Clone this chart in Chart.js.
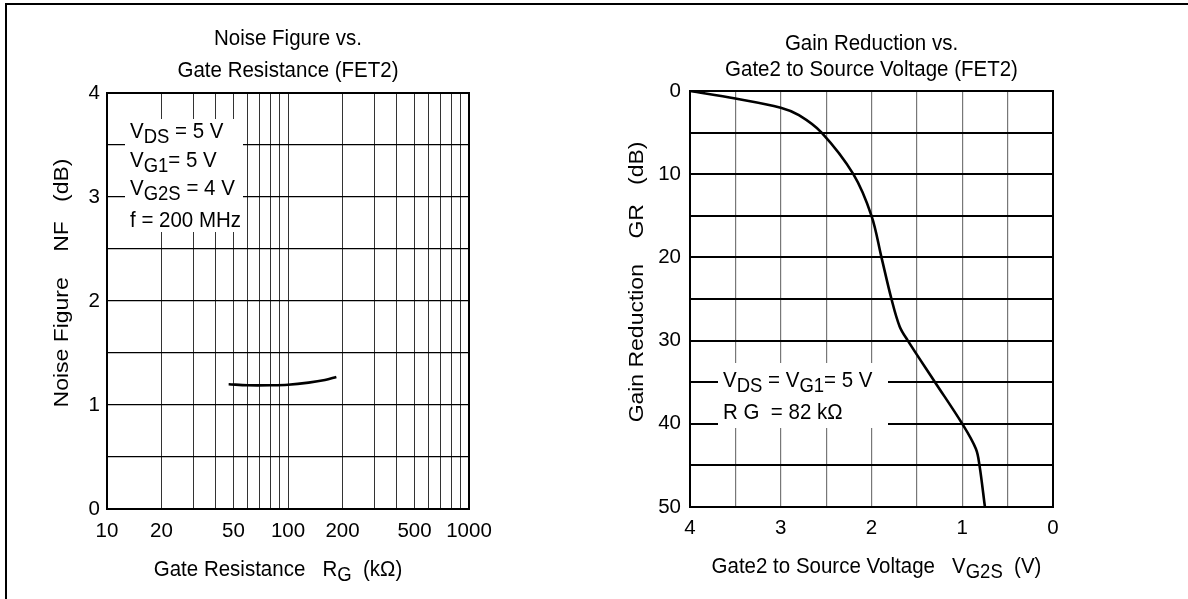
<!DOCTYPE html>
<html>
<head>
<meta charset="utf-8">
<script src="https://cdn.jsdelivr.net/npm/chart.js@4.4.1/dist/chart.umd.min.js"></script>
<style>
  html, body { margin: 0; padding: 0; background: #fff; }
  #page { position: relative; width: 1188px; height: 599px; overflow: hidden; background: #fff; }
  #frame { position: absolute; left: 5px; top: 3px; width: 1200px; height: 620px;
           border-top: 2px solid #000; border-left: 2px solid #000; }
  canvas { position: absolute; top: 0; }
</style>
</head>
<body>
<div id="page">
  <div id="frame"></div>
  <canvas id="nfChart" width="594" height="599" style="left:0"></canvas>
  <canvas id="grChart" width="594" height="599" style="left:594px"></canvas>
</div>
<script>
// ---- left chart: noise figure vs gate resistance ----
const nfTitle = ['Noise Figure vs.', 'Gate Resistance (FET2)'];
const nfResistance = [47, 60, 80, 100, 130, 160, 185];
const nfValues = [1.20, 1.19, 1.19, 1.195, 1.215, 1.24, 1.27];
const nfTickLabels = [10, 20, 50, 100, 200, 500, 1000];
const nfYLabels = [0, 1, 2, 3, 4];
const nfConditions = [
    [['V', 0], ['DS', 1], [' = 5 V', 0]],
    [['V', 0], ['G1', 1], ['= 5 V', 0]],
    [['V', 0], ['G2S', 1], [' = 4 V', 0]],
    [['f = 200 MHz', 0]]
];
const nfXTitle = [['Gate Resistance   R', 0], ['G', 1], ['  (k\u03A9)', 0]];
const nfYTitle = 'Noise Figure    NF   (dB)';

// ---- right chart: gain reduction vs gate2 voltage ----
const grTitle = ['Gain Reduction vs.', 'Gate2 to Source Voltage (FET2)'];
const grVoltage = [4, 3.5, 3, 2.8, 2.55, 2.2, 2.0, 1.89, 1.78, 1.69, 1.6, 1.3, 1.0, 0.85, 0.81, 0.75];
const grValues  = [0, 0.9, 2, 2.9, 5, 10, 15, 20, 25, 28.3, 30, 35, 40, 43, 45, 50];
const grXLabels = [0, 1, 2, 3, 4];
const grYLabels = [0, 10, 20, 30, 40, 50];
const grConditions = [
    [['V', 0], ['DS', 1], [' = V', 0], ['G1', 1], ['= 5 V', 0]],
    [['R G  = 82 k\u03A9', 0]]
];
const grXTitle = [['Gate2 to Source Voltage   V', 0], ['G2S', 1], ['  (V)', 0]];
const grYTitle = 'Gain Reduction    GR   (dB)';

const FONT = "'Liberation Sans', Arial, sans-serif";
const TEXT_SIZE = 20.5;
const SUB_SIZE = 18.5;
const STRETCH = 1.12;   // the scan is a bit taller than wide

function richWidth(ctx, parts) {
    let w = 0;
    parts.forEach(([t, sub]) => {
        ctx.font = `${sub ? SUB_SIZE : TEXT_SIZE}px ${FONT}`;
        w += ctx.measureText(t).width;
    });
    return w;
}

function drawRich(ctx, parts, x, y) {
    let cx = x;
    parts.forEach(([t, sub]) => {
        ctx.font = `${sub ? SUB_SIZE : TEXT_SIZE}px ${FONT}`;
        ctx.save();
        ctx.translate(cx, y + (sub ? 5 : 0));
        ctx.scale(1, STRETCH);
        ctx.fillText(t, 0, 0);
        ctx.restore();
        cx += ctx.measureText(t).width;
    });
}

// titles, axis titles, condition box and frame of the plot
function makeDeco(cfg) {
    return {
        id: 'deco',
        beforeDatasetsDraw(chart) {
            const { ctx, chartArea: a } = chart;
            const n = cfg.note;
            ctx.save();
            ctx.fillStyle = '#fff';
            ctx.fillRect(a.left + n.box[0], a.top + n.box[1], n.box[2], n.box[3]);
            ctx.fillStyle = '#000';
            ctx.textAlign = 'left';
            ctx.textBaseline = 'alphabetic';
            n.lines.forEach((line, i) => drawRich(ctx, line, a.left + n.x, a.top + n.y[i]));
            ctx.restore();
        },
        afterDatasetsDraw(chart) {
            const { ctx, chartArea: a } = chart;
            const mid = (a.left + a.right) / 2;
            ctx.save();
            ctx.strokeStyle = '#000';
            ctx.lineWidth = 2;
            ctx.strokeRect(a.left, a.top, a.right - a.left, a.bottom - a.top);

            ctx.fillStyle = '#000';
            ctx.textBaseline = 'alphabetic';
            ctx.textAlign = 'left';
            cfg.title.forEach((t, i) => {
                const w = richWidth(ctx, [[t, 0]]);
                drawRich(ctx, [[t, 0]], mid - w / 2, a.top + cfg.titleY[i]);
            });

            const w = richWidth(ctx, cfg.xTitle);
            drawRich(ctx, cfg.xTitle, mid + cfg.xTitleDx - w / 2, a.bottom + cfg.xTitleDy);

            ctx.translate(a.left + cfg.yTitleDx, (a.top + a.bottom) / 2 + cfg.yTitleDy);
            ctx.rotate(-Math.PI / 2);
            ctx.scale(STRETCH, 1);
            ctx.textAlign = 'center';
            ctx.font = `${TEXT_SIZE}px ${FONT}`;
            ctx.fillText(cfg.yTitle, 0, 0);
            ctx.restore();
        }
    };
}

const tickFont = { family: FONT, size: 20.5 };

// grid lines of a log axis: 1..9 in every decade
function logGrid(min, max) {
    const out = [];
    for (let d = min; d < max; d *= 10) {
        for (let k = 1; k < 10; k++) out.push(d * k);
    }
    out.push(max);
    return out;
}

new Chart(document.getElementById('nfChart'), {
    type: 'line',
    data: {
        datasets: [{
            data: nfResistance.map((x, i) => ({ x, y: nfValues[i] })),
            borderColor: '#000',
            borderWidth: 2.6,
            pointRadius: 0,
            tension: 0.35,
            fill: false
        }]
    },
    options: {
        responsive: false,
        animation: false,
        events: [],
        layout: { padding: { left: 0, top: 93, right: 125, bottom: 60 } },
        plugins: { legend: { display: false }, tooltip: { enabled: false } },
        scales: {
            x: {
                type: 'logarithmic',
                min: 10, max: 1000,
                afterBuildTicks: s => { s.ticks = logGrid(10, 1000).map(v => ({ value: v })); },
                afterFit: s => { s.height = 30; s.paddingLeft = 0; s.paddingRight = 0; },
                grid: { color: '#333', lineWidth: 1, drawTicks: false },
                border: { display: false },
                ticks: {
                    autoSkip: false, maxRotation: 0, padding: 10,
                    color: '#000', font: tickFont,
                    callback: v => nfTickLabels.includes(v) ? String(v) : ''
                }
            },
            y: {
                min: 0, max: 4,
                afterFit: s => { s.width = 107; s.paddingTop = 0; s.paddingBottom = 0; },
                grid: { color: '#000', lineWidth: 1.2, drawTicks: false },
                border: { display: false },
                ticks: {
                    stepSize: 0.5, autoSkip: false, padding: 7,
                    color: '#000', font: tickFont,
                    callback: v => nfYLabels.includes(v) ? String(v) : ''
                }
            }
        }
    },
    plugins: [makeDeco({
        title: nfTitle, titleY: [-48, -16],
        xTitle: nfXTitle, xTitleDx: -10, xTitleDy: 67,
        yTitle: nfYTitle, yTitleDx: -39, yTitleDy: -18,
        note: { box: [18, 26, 118, 113], x: 23, y: [45, 74, 102, 134], lines: nfConditions }
    })]
});

new Chart(document.getElementById('grChart'), {
    type: 'line',
    data: {
        datasets: [{
            data: grVoltage.map((x, i) => ({ x, y: grValues[i] })),
            borderColor: '#000',
            borderWidth: 2.6,
            pointRadius: 0,
            tension: 0.35,
            fill: false
        }]
    },
    options: {
        responsive: false,
        animation: false,
        events: [],
        layout: { padding: { left: 0, top: 91, right: 135, bottom: 62 } },
        plugins: { legend: { display: false }, tooltip: { enabled: false } },
        scales: {
            x: {
                type: 'linear',
                min: 0, max: 4, reverse: true,
                afterFit: s => { s.height = 30; s.paddingLeft = 0; s.paddingRight = 0; },
                grid: { color: '#777', lineWidth: 1.2, drawTicks: false },
                border: { display: false },
                ticks: {
                    stepSize: 0.5, autoSkip: false, maxRotation: 0, padding: 9,
                    color: '#000', font: tickFont,
                    callback: v => grXLabels.includes(v) ? String(v) : ''
                }
            },
            y: {
                min: 0, max: 50, reverse: true,
                afterFit: s => { s.width = 96; s.paddingTop = 0; s.paddingBottom = 0; },
                grid: { color: '#000', lineWidth: 2, drawTicks: false },
                border: { display: false },
                ticks: {
                    stepSize: 5, autoSkip: false, padding: 9,
                    color: '#000', font: tickFont,
                    callback: v => grYLabels.includes(v) ? String(v) : ''
                }
            }
        }
    },
    plugins: [makeDeco({
        title: grTitle, titleY: [-41, -15],
        xTitle: grXTitle, xTitleDx: 5, xTitleDy: 66,
        yTitle: grYTitle, yTitleDx: -47, yTitleDy: -17,
        note: { box: [28, 272, 170, 65], x: 33, y: [296, 328], lines: grConditions }
    })]
});
</script>
</body>
</html>
